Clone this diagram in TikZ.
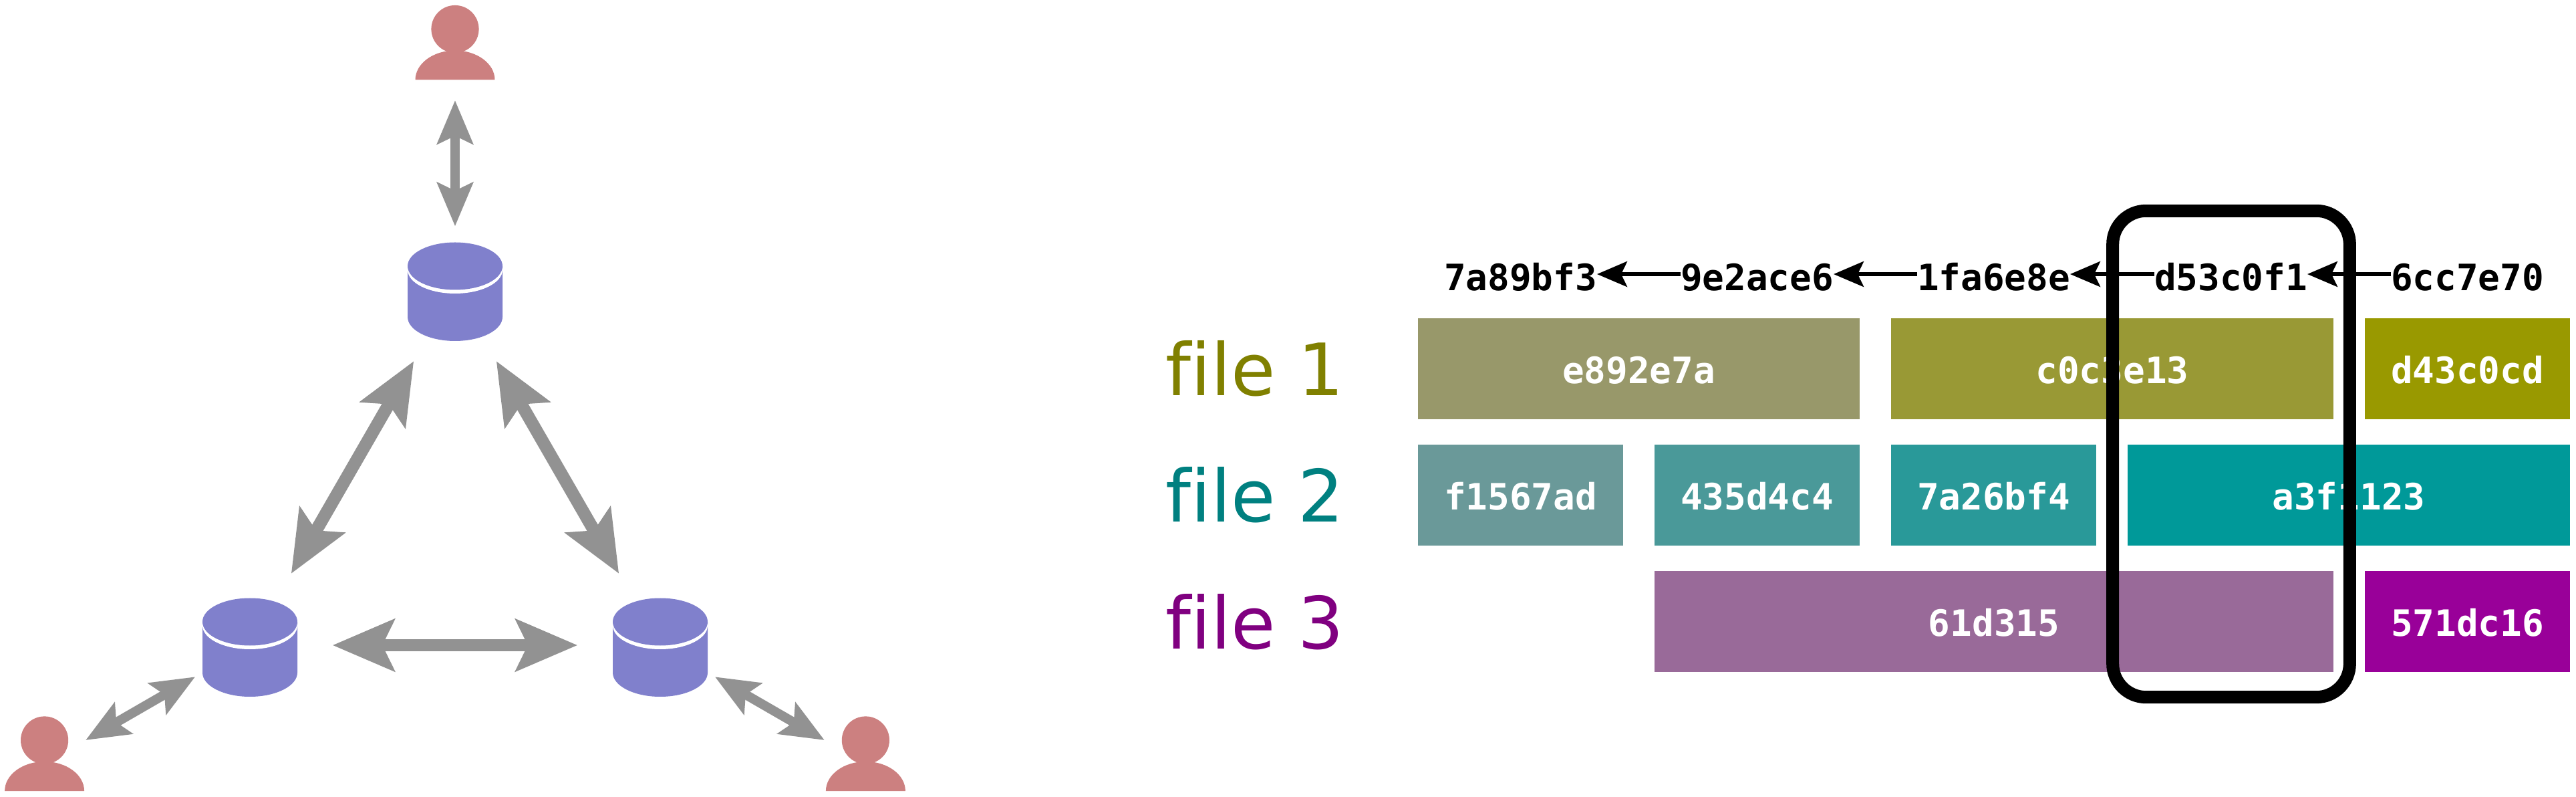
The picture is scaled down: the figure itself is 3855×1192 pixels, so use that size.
\documentclass[tikz,border=0pt]{standalone}
\usepackage{fontspec}
\setmainfont[Ligatures=NoCommon]{DejaVu Sans}
\setmonofont{DejaVu Sans Mono}
\usetikzlibrary{arrows.meta}

\definecolor{dbblue}{HTML}{8080CC}
\definecolor{userred}{HTML}{CC8080}
\definecolor{linkgray}{HTML}{929292}
\definecolor{fileolive}{HTML}{808000}
\definecolor{fileteal}{HTML}{008080}
\definecolor{filepurple}{HTML}{800080}
\definecolor{olivea}{HTML}{98986A}
\definecolor{oliveb}{HTML}{999935}
\definecolor{olivec}{HTML}{999900}
\definecolor{teala}{HTML}{6A9999}
\definecolor{tealb}{HTML}{4A9999}
\definecolor{tealc}{HTML}{299999}
\definecolor{teald}{HTML}{009999}
\definecolor{purplea}{HTML}{996A99}
\definecolor{purpleb}{HTML}{990099}

\tikzset{
    dbnode/.style={circle, minimum size=1.89cm, inner sep=0pt, outer sep=0pt},
    usernode/.style={circle, minimum size=1.42cm, inner sep=0pt, outer sep=0pt},
    biglink/.style={line width=0.187cm, linkgray, shorten <=0.29cm, shorten >=0.29cm,
        {Stealth[length=0.92cm, width=0.766cm, inset=0.176cm]}-{Stealth[length=0.92cm, width=0.766cm, inset=0.176cm]}},
    smalllink/.style={line width=0.14cm, linkgray,
        {Stealth[length=0.65cm, width=0.53cm, inset=0.12cm]}-{Stealth[length=0.65cm, width=0.53cm, inset=0.12cm]}},
    chunk/.style={minimum height=1.51cm, inner sep=0pt, outer sep=0pt, text=white,
        text height=0.44cm, text depth=0pt, font=\fontsize{15.45}{18}\selectfont\ttfamily\bfseries},
    commit/.style={inner sep=0pt, outer sep=0pt, text height=0.48cm, text depth=0pt,
        font=\fontsize{15.45}{18}\selectfont\ttfamily\bfseries},
    parent/.style={line width=0.053cm, -{Stealth[length=0.45cm, width=0.38cm, inset=0.09cm]}},
    filelabel/.style={anchor=base west, inner sep=0pt, font=\fontsize{30.7}{36}\selectfont},
    snapshot/.style={draw=black, line width=0.19cm, rounded corners=0.5cm, inner sep=0pt,
        minimum width=3.545cm, minimum height=7.27cm},
    dbicon/.pic={
        \fill[dbblue] (-71,-35) -- (-71,41) arc[start angle=180, end angle=0, x radius=71, y radius=36]
            -- (71,-35) -- cycle;
        \fill[white] (0,-29.5) ellipse[x radius=71, y radius=35.5];
        \fill[dbblue] (0,-35) ellipse[x radius=71, y radius=35.5];
    },
    usericon/.pic={
        \fill[userred] (0,-35.5) circle[radius=35.6];
        \fill[userred] (-59.5,40.5) arc[start angle=180, end angle=360, x radius=59.5, y radius=44] -- cycle;
    },
}

\begin{document}
\begin{tikzpicture}[x=0.01cm, y=-0.01cm]
    \useasboundingbox (0,0) rectangle (3855,1192);

    % Servers and users
    \node[dbnode] (dbtop) at (681,433) {};
    \node[dbnode] (dbleft) at (374,965) {};
    \node[dbnode] (dbright) at (988,965) {};
    \node[usernode] (usertop) at (681,79) {};
    \node[usernode] (userleft) at (66.6,1142.5) {};
    \node[usernode] (userright) at (1295.4,1142.5) {};
    \pic at (dbtop) {dbicon};
    \pic at (dbleft) {dbicon};
    \pic at (dbright) {dbicon};
    \pic at (usertop) {usericon};
    \pic at (userleft) {usericon};
    \pic at (userright) {usericon};

    % Draw links
    \draw[biglink] (dbtop) -- (dbleft);
    \draw[biglink] (dbtop) -- (dbright);
    \draw[biglink] (dbleft) -- (dbright);
    \draw[smalllink] (usertop) -- (dbtop);
    \draw[smalllink] (userleft) -- (dbleft);
    \draw[smalllink] (userright) -- (dbright);

    % Commit row
    \node[commit] (c1) at (2275.5,410) {7a89bf3};
    \node[commit] (c2) at (2629.5,410) {9e2ace6};
    \node[commit] (c3) at (2983.5,410) {1fa6e8e};
    \node[commit] (c4) at (3338.5,410) {d53c0f1};
    \node[commit] (c5) at (3692.5,410) {6cc7e70};
    \draw[parent] (c2) -- (c1);
    \draw[parent] (c3) -- (c2);
    \draw[parent] (c4) -- (c3);
    \draw[parent] (c5) -- (c4);

    % File labels
    \node[filelabel, text=fileolive] (file1) at (1743.5,592) {file 1};
    \node[filelabel, text=fileteal] (file2) at (1743.5,781) {file 2};
    \node[filelabel, text=filepurple] (file3) at (1743.5,970) {file 3};

    % Chunks of file 1
    \node[chunk, minimum width=6.61cm, fill=olivea] (f1a) at (2452.5,551.5) {e892e7a};
    \node[chunk, minimum width=6.62cm, fill=oliveb] (f1b) at (3161,551.5) {c0c3e13};
    \node[chunk, minimum width=3.07cm, fill=olivec] (f1c) at (3692.5,551.5) {d43c0cd};
    % Chunks of file 2
    \node[chunk, minimum width=3.07cm, fill=teala] (f2a) at (2275.5,740.5) {f1567ad};
    \node[chunk, minimum width=3.07cm, fill=tealb] (f2b) at (2629.5,740.5) {435d4c4};
    \node[chunk, minimum width=3.07cm, fill=tealc] (f2c) at (2983.5,740.5) {7a26bf4};
    \node[chunk, minimum width=6.62cm, fill=teald] (f2d) at (3515,740.5) {a3f1123};
    % Chunks of file 3
    \node[chunk, minimum width=10.16cm, fill=purplea] (f3a) at (2984,929.5) {61d315};
    \node[chunk, minimum width=3.07cm, fill=purpleb] (f3b) at (3692.5,929.5) {571dc16};

    % Snapshot frame
    \node[snapshot] (frame) at (3339,679) {};
\end{tikzpicture}
\end{document}
